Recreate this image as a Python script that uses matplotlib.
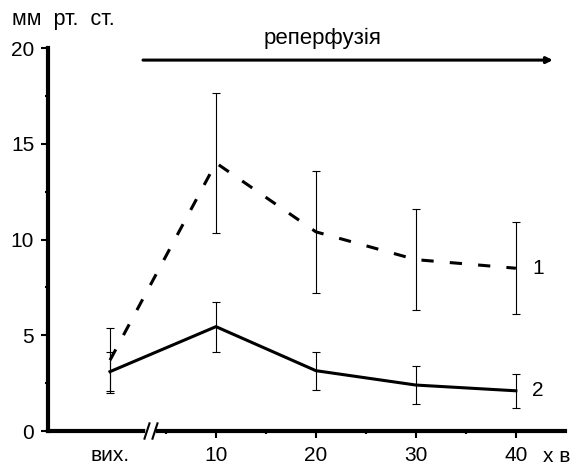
import matplotlib.pyplot as plt

plt.rcParams["font.family"] = ["Liberation Sans", "DejaVu Sans"]

# time points, min of reperfusion; "вих." is the baseline value
TIMES = [10, 20, 30, 40]
BASE_LABEL = "вих."

# curve 1 (dashed)
S1_BASE, S1_BASE_ERR = 3.7, 1.7
S1_MEAN = [14.0, 10.4, 8.95, 8.5]
S1_ERR = [3.65, 3.2, 2.65, 2.4]

# curve 2 (solid)
S2_BASE, S2_BASE_ERR = 3.1, 1.0
S2_MEAN = [5.45, 3.15, 2.4, 2.1]
S2_ERR = [1.3, 1.0, 1.0, 0.9]

BASE_X = -0.6  # where the baseline sits left of the axis break

fig = plt.figure(figsize=(5.73, 4.69), dpi=100)
ax = fig.add_axes([0.0838, 0.081, 0.902, 0.8166])

x = [BASE_X] + TIMES
s1 = [S1_BASE] + S1_MEAN
s1e = [S1_BASE_ERR] + S1_ERR
s2 = [S2_BASE] + S2_MEAN
s2e = [S2_BASE_ERR] + S2_ERR

ax.errorbar(x, s1, yerr=s1e, fmt="none", ecolor="black", elinewidth=0.8, capsize=3, capthick=0.8)
ax.errorbar(x, s2, yerr=s2e, fmt="none", ecolor="black", elinewidth=0.8, capsize=3, capthick=0.8)
ax.plot(x, s1, color="black", lw=2.2, dashes=(4, 5.3))
ax.plot(x, s2, color="black", lw=2.2)

ax.annotate("1", (TIMES[-1], S1_MEAN[-1]), xytext=(16, 0), textcoords="offset points",
            ha="center", va="center", fontsize=15)
ax.annotate("2", (TIMES[-1], S2_MEAN[-1]), xytext=(16, 0), textcoords="offset points",
            ha="center", va="center", fontsize=15)

ax.set_xlim(-6.8, 44.9)
ax.set_ylim(0, 20)

for side in ["top", "right"]:
    ax.spines[side].set_visible(False)
for side in ["left", "bottom"]:
    ax.spines[side].set_linewidth(3)

ax.set_yticks([0, 5, 10, 15, 20])
ax.set_yticks([2.5, 7.5, 12.5, 17.5], minor=True)
ax.set_xticks([BASE_X] + TIMES)
ax.set_xticklabels([BASE_LABEL] + [str(t) for t in TIMES])
ax.set_xticks([5, 15, 25, 35], minor=True)
ax.tick_params(axis="both", which="major", length=5, width=1.5, labelsize=15)
ax.tick_params(axis="x", which="major", pad=6)
ax.tick_params(axis="y", which="major", pad=5)
ax.tick_params(axis="both", which="minor", length=2, width=1.5)
ax.xaxis.get_major_ticks()[0].tick1line.set_visible(False)

# axis break
for bx in (3.1, 3.9):
    ax.plot([bx - 0.25, bx + 0.25], [-0.4, 0.4], color="black", lw=1.5, clip_on=False, zorder=5)
ax.plot([3.25, 3.75], [0, 0], color="white", lw=4, clip_on=False, zorder=4)

# reperfusion arrow
ax.annotate("", xy=(43.7, 19.37), xytext=(2.7, 19.37),
            arrowprops=dict(arrowstyle="-|>", lw=2.2, color="black", mutation_scale=9,
                            shrinkA=0, shrinkB=0),
            annotation_clip=False)
ax.text(20.7, 20.5, "реперфузія", ha="center", va="center", fontsize=16, clip_on=False)

fig.text(12 / 573, 1 - 20 / 469, "мм  рт.  ст.", ha="left", va="center", fontsize=15.5)
fig.text(557 / 573, 1 - 456 / 469, "х в", ha="center", va="center", fontsize=15)

fig.savefig("out.png", dpi=100)
